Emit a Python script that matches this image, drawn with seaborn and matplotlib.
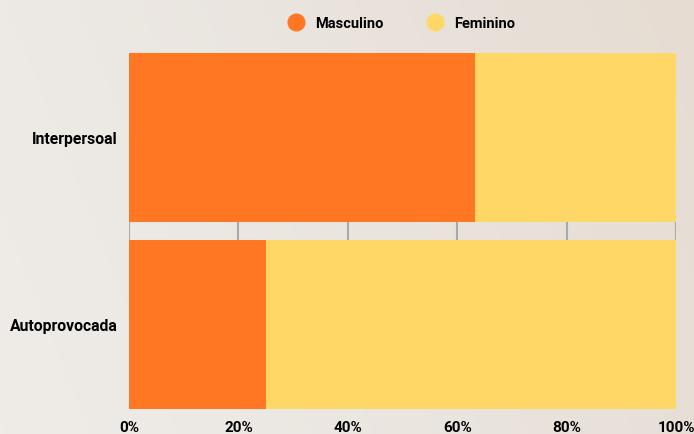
import numpy as np
import pandas as pd
import matplotlib.pyplot as plt
import seaborn as sns
from matplotlib.colors import LinearSegmentedColormap
from matplotlib.lines import Line2D

categorias = ["Interpersoal", "Autoprovocada"]
masculino = [63.3, 25.0]
feminino = [36.7, 75.0]
series = ["Masculino", "Feminino"]
cores = ["#FF7722", "#FFD766"]
ticks = [0, 20, 40, 60, 80, 100]

df = pd.DataFrame({"categoria": categorias, "Masculino": masculino, "Feminino": feminino})
df["total"] = df["Masculino"] + df["Feminino"]

sns.set_theme(style="white")
plt.rcParams["font.family"] = ["Roboto", "DejaVu Sans"]
plt.rcParams["text.color"] = "black"
plt.rcParams["xtick.color"] = "black"
plt.rcParams["ytick.color"] = "black"

fig = plt.figure(figsize=(6.94, 4.35), dpi=100)

# fundo bege em degradê
bg = fig.add_axes([0, 0, 1, 1], zorder=-10)
cmap = LinearSegmentedColormap.from_list("bg", ["#efece8", "#eae5df", "#e6dcd2"])
gx, gy = np.meshgrid(np.linspace(0, 1, 200), np.linspace(0, 1, 120))
bg.imshow(0.8 * gx + 0.2 * (1 - gy), cmap=cmap, aspect="auto", extent=[0, 1, 0, 1])
bg.axis("off")

ax = fig.add_axes([0.1859, 0.0575, 0.7882, 0.8184])
ax.patch.set_alpha(0)

# barras empilhadas: total (feminino) primeiro, masculino por cima
sns.barplot(data=df, x="total", y="categoria", color=cores[1], width=0.904,
            saturation=1, linewidth=0, ax=ax, zorder=3)
sns.barplot(data=df, x="Masculino", y="categoria", color=cores[0], width=0.904,
            saturation=1, linewidth=0, ax=ax, zorder=4)

ax.set_xlim(0, 100)
ax.set_ylim(1.452, -0.452)
ax.set_xticks(ticks)
ax.set_xticklabels([f"{t}%" for t in ticks], fontsize=11, fontweight="bold", color="black")
ax.tick_params(axis="y", labelsize=11.3, pad=8, length=0, labelcolor="black")
ax.tick_params(axis="x", pad=8, length=0, labelcolor="black")
for lbl in ax.get_yticklabels():
    lbl.set_fontweight("bold")
ax.set_xlabel("")
ax.set_ylabel("")
ax.grid(axis="x", color="#aaaaaa", linewidth=1.5, zorder=0)
ax.set_axisbelow(True)
for s in ax.spines.values():
    s.set_visible(False)

handles = [Line2D([0], [0], marker="o", linestyle="", markersize=12,
                  markerfacecolor=c, markeredgecolor=c) for c in cores]
fig.legend(handles, series, loc="upper center", bbox_to_anchor=(0.574, 0.99),
           ncol=2, frameon=False, prop={"weight": "bold", "size": 10.5},
           handletextpad=0.3, columnspacing=2.5)

fig.savefig("out.png", dpi=100)
